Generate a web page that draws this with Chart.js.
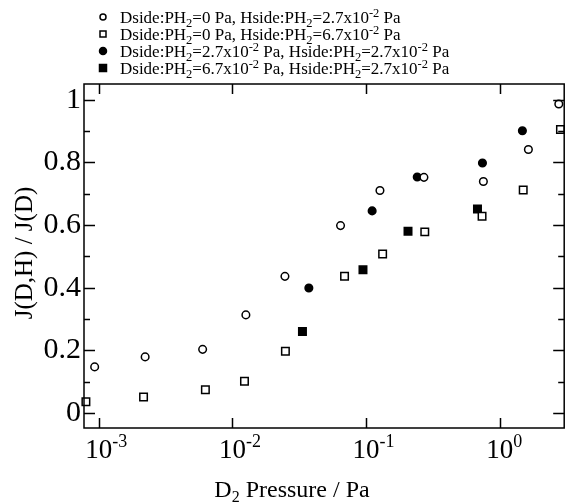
<!DOCTYPE html>
<html>
<head>
<meta charset="utf-8">
<script src="https://cdn.jsdelivr.net/npm/chart.js@4.4.0/dist/chart.umd.min.js"></script>
<style>
html,body{margin:0;padding:0;background:#fff;}
#wrap{position:relative;width:571px;height:504px;}
</style>
</head>
<body>
<div id="wrap"><canvas id="c" width="571" height="504"></canvas></div>
<script>
// ---- data ----
const seriesNames = [
  'Dside:PH_{2}=0 Pa, Hside:PH_{2}=2.7x10^{-2} Pa',
  'Dside:PH_{2}=0 Pa, Hside:PH_{2}=6.7x10^{-2} Pa',
  'Dside:PH_{2}=2.7x10^{-2} Pa, Hside:PH_{2}=2.7x10^{-2} Pa',
  'Dside:PH_{2}=6.7x10^{-2} Pa, Hside:PH_{2}=2.7x10^{-2} Pa'
];
const openCircleX = [9.3e-4, 2.22e-3, 5.98e-3, 1.26e-2, 2.47e-2, 6.44e-2, 0.127, 0.271, 0.755, 1.64, 2.77];
const openCircleY = [0.147, 0.179, 0.203, 0.313, 0.436, 0.598, 0.710, 0.752, 0.739, 0.841, 0.986];
const openSquareX = [8.0e-4, 2.16e-3, 6.27e-3, 1.23e-2, 2.49e-2, 6.9e-2, 0.133, 0.275, 0.738, 1.50, 2.85];
const openSquareY = [0.036, 0.051, 0.074, 0.101, 0.197, 0.436, 0.507, 0.578, 0.628, 0.712, 0.905];
const filledCircleX = [0.0373, 0.111, 0.2415, 0.743, 1.479];
const filledCircleY = [0.399, 0.645, 0.753, 0.798, 0.901];
const filledSquareX = [0.0334, 0.0948, 0.206, 0.682];
const filledSquareY = [0.260, 0.457, 0.580, 0.651];

const xTickValues = [0.001, 0.01, 0.1, 1];
const xTickBase = ['10', '10', '10', '10'];
const xTickExponents = ['-3', '-2', '-1', '0'];
const yTickValues = [0, 0.2, 0.4, 0.6, 0.8, 1];
const yTickLabels = ['0', '0.2', '0.4', '0.6', '0.8', '1'];
const yMinorStep = 0.1;
const xTitle = 'D_{2} Pressure / Pa';
const yTitle = 'J(D,H) / J(D)';

const FONT = "'Liberation Serif', 'Times New Roman', serif";

function zip(xs, ys) { return xs.map((x, i) => ({x: x, y: ys[i]})); }

// parse text with _{sub} and ^{sup}
function parseRich(s) {
  const out = [];
  const re = /([_^])\{([^}]*)\}/g;
  let last = 0, m;
  while ((m = re.exec(s)) !== null) {
    if (m.index > last) out.push({t: s.slice(last, m.index), k: 'n'});
    out.push({t: m[2], k: m[1] === '_' ? 'sub' : 'sup'});
    last = re.lastIndex;
  }
  if (last < s.length) out.push({t: s.slice(last), k: 'n'});
  return out;
}
function richWidth(ctx, segs, size, small) {
  let w = 0;
  segs.forEach(sg => {
    ctx.font = (sg.k === 'n' ? size : small) + 'px ' + FONT;
    w += ctx.measureText(sg.t).width;
  });
  return w;
}
function drawRich(ctx, segs, x, y, size, small, subDy, supDy) {
  ctx.textAlign = 'left';
  ctx.textBaseline = 'alphabetic';
  segs.forEach(sg => {
    ctx.font = (sg.k === 'n' ? size : small) + 'px ' + FONT;
    const dy = sg.k === 'sub' ? subDy : (sg.k === 'sup' ? -supDy : 0);
    ctx.fillText(sg.t, x, y + dy);
    x += ctx.measureText(sg.t).width;
  });
}

const markerStyles = [
  {shape: 'circle', fill: '#fff'},
  {shape: 'rect', fill: '#fff'},
  {shape: 'circle', fill: '#000'},
  {shape: 'rect', fill: '#000'}
];

function drawMarker(ctx, st, x, y, r) {
  ctx.save();
  ctx.lineWidth = 1.5;
  ctx.strokeStyle = '#000';
  ctx.fillStyle = st.fill;
  ctx.beginPath();
  if (st.shape === 'circle') ctx.arc(x, y, r, 0, Math.PI * 2);
  else ctx.rect(x - r, y - r, 2 * r, 2 * r);
  ctx.fill();
  ctx.stroke();
  ctx.restore();
}

const decor = {
  id: 'decor',
  afterDraw(chart) {
    const ctx = chart.ctx;
    const a = chart.chartArea;
    const xs = chart.scales.x, ys = chart.scales.y;
    ctx.save();
    ctx.strokeStyle = '#000';
    ctx.fillStyle = '#000';
    ctx.lineWidth = 1.5;
    // frame
    ctx.strokeRect(a.left, a.top, a.right - a.left, a.bottom - a.top);
    // x ticks (top and bottom, inward)
    xTickValues.forEach(v => {
      const px = Math.round(xs.getPixelForValue(v)) + 0.5;
      ctx.beginPath();
      ctx.moveTo(px, a.bottom); ctx.lineTo(px, a.bottom - 10);
      ctx.moveTo(px, a.top); ctx.lineTo(px, a.top + 10);
      ctx.stroke();
    });
    // y ticks (left and right, inward), major every 0.2, minor every 0.1
    for (let i = 0; i <= 10; i++) {
      const v = i * yMinorStep;
      const py = Math.round(ys.getPixelForValue(v)) + 0.5;
      const len = (i % 2 === 0) ? 11 : 6;
      ctx.beginPath();
      ctx.moveTo(a.left, py); ctx.lineTo(a.left + len, py);
      ctx.moveTo(a.right, py); ctx.lineTo(a.right - len, py);
      ctx.stroke();
    }
    // x tick labels: "10" centred on tick, exponent as superscript
    xTickValues.forEach((v, i) => {
      const px = xs.getPixelForValue(v);
      ctx.font = '27px ' + FONT;
      ctx.textAlign = 'center';
      ctx.textBaseline = 'alphabetic';
      const bw = ctx.measureText(xTickBase[i]).width;
      ctx.fillText(xTickBase[i], px, 458);
      ctx.font = '18px ' + FONT;
      ctx.textAlign = 'left';
      ctx.fillText(xTickExponents[i], px + bw / 2, 447);
    });
    // x title
    const xt = parseRich(xTitle);
    const xw = richWidth(ctx, xt, 24, 16);
    drawRich(ctx, xt, 292 - xw / 2, 497, 24, 16, 5, 9);
    // y title
    ctx.save();
    ctx.translate(32, 253);
    ctx.rotate(-Math.PI / 2);
    ctx.font = '25px ' + FONT;
    ctx.textAlign = 'center';
    ctx.textBaseline = 'alphabetic';
    ctx.fillText(yTitle, 0, 0);
    ctx.restore();
    // legend
    const baselines = [22.5, 39.5, 56.5, 73.5];
    seriesNames.forEach((name, i) => {
      const segs = parseRich(name);
      ctx.fillStyle = '#000';
      drawRich(ctx, segs, 120, baselines[i], 17, 12.5, 4, 6);
      const st = markerStyles[i];
      drawMarker(ctx, st, 103, baselines[i] - 5.5, st.fill === '#000' ? 3.5 : 3);
    });
    ctx.restore();
  }
};

const ds = (label, data, style) => ({
  label: label,
  data: data,
  showLine: false,
  pointStyle: style.shape === 'circle' ? 'circle' : 'rect',
  pointRadius: style.shape === 'circle' ? 3.8 : 5.3,
  pointHoverRadius: style.shape === 'circle' ? 3.8 : 5.3,
  pointBorderWidth: 1.5,
  pointBackgroundColor: style.fill,
  pointBorderColor: '#000',
  backgroundColor: style.fill,
  borderColor: '#000',
  clip: false
});

new Chart(document.getElementById('c'), {
  type: 'scatter',
  data: {
    datasets: [
      ds(seriesNames[0], zip(openCircleX, openCircleY), markerStyles[0]),
      ds(seriesNames[1], zip(openSquareX, openSquareY), markerStyles[1]),
      ds(seriesNames[2], zip(filledCircleX, filledCircleY), markerStyles[2]),
      ds(seriesNames[3], zip(filledSquareX, filledSquareY), markerStyles[3])
    ]
  },
  options: {
    responsive: false,
    animation: false,
    devicePixelRatio: 1,
    layout: {padding: {left: 0, top: 84, right: 3, bottom: 76}},
    plugins: {legend: {display: false}, tooltip: {enabled: false}, title: {display: false}},
    scales: {
      x: {
        type: 'logarithmic',
        min: 7.74e-4,
        max: 3.04,
        display: false
      },
      y: {
        type: 'linear',
        min: -0.048,
        max: 1.05,
        afterBuildTicks: s => { s.ticks = yTickValues.map(v => ({value: v})); },
        afterFit: s => { s.width = 84; },
        grid: {display: false, drawTicks: false},
        border: {display: false},
        ticks: {
          padding: 3,
          color: '#000',
          font: {family: FONT, size: 30},
          callback: (v) => {
            const i = yTickValues.findIndex(t => Math.abs(t - v) < 1e-9);
            return i >= 0 ? yTickLabels[i] : '';
          }
        }
      }
    }
  },
  plugins: [decor]
});
</script>
</body>
</html>
